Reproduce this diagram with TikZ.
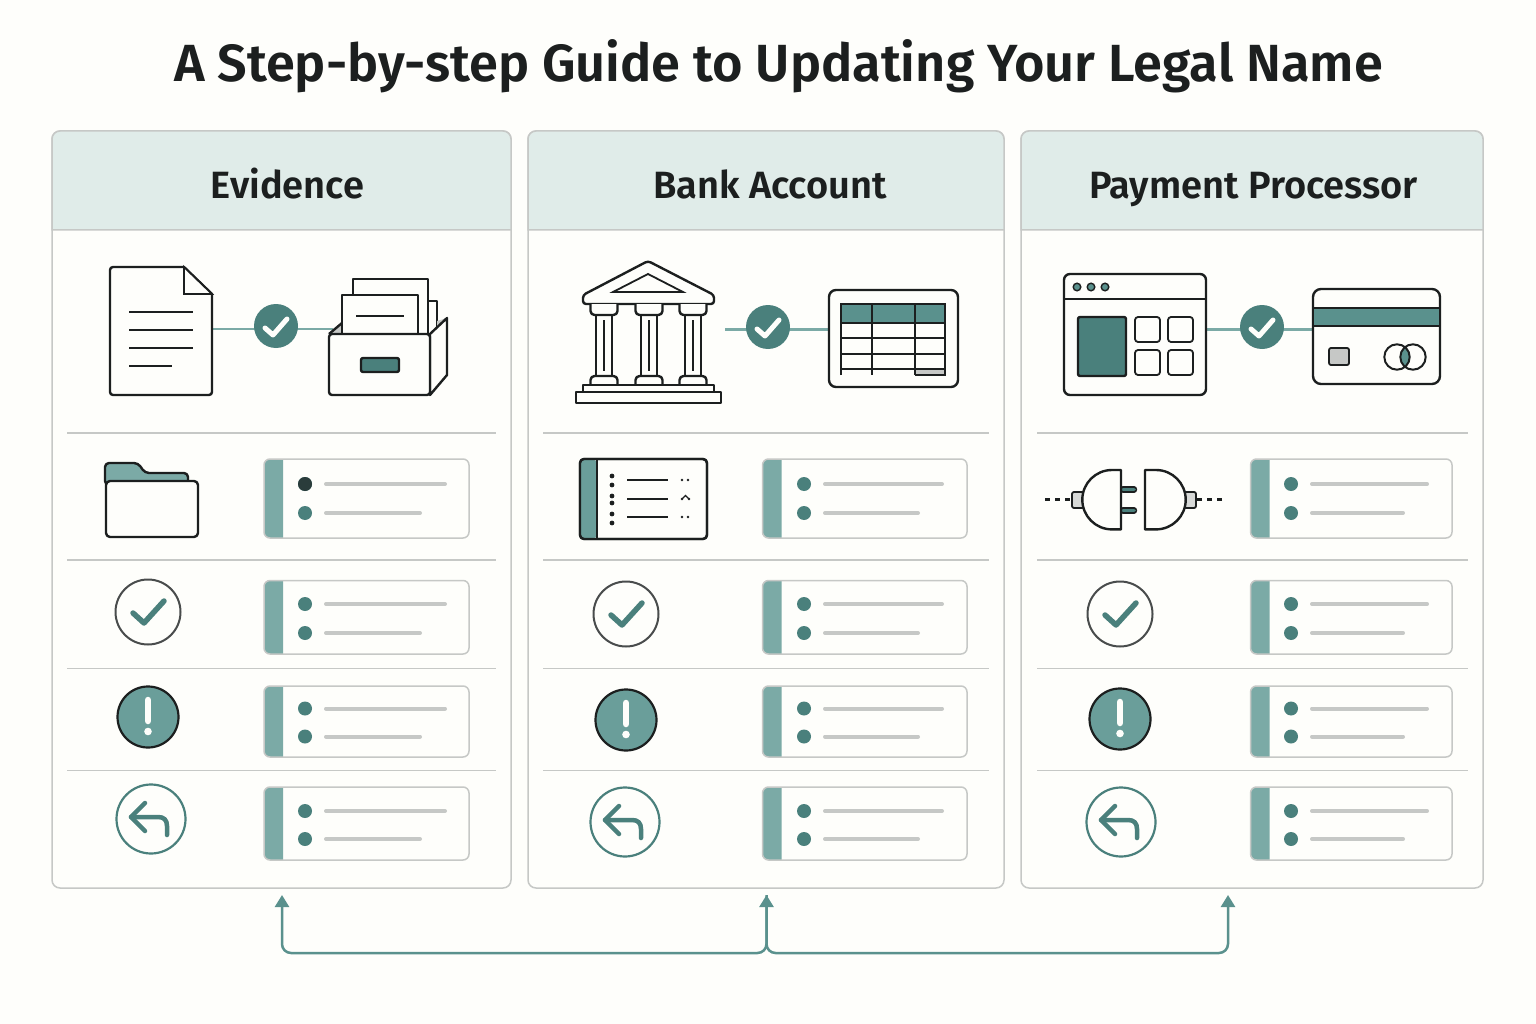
\documentclass[tikz,border=0pt]{standalone}
\usepackage{fontspec}
\setmainfont{Fira Sans}[BoldFont=Fira Sans SemiBold]
\usetikzlibrary{arrows.meta}
\definecolor{paper}{HTML}{FEFEFB}
\definecolor{headfill}{HTML}{E0ECE9}
\definecolor{rimgray}{HTML}{C6C8C6}
\definecolor{ink}{HTML}{1C1F1F}
\definecolor{tealdark}{HTML}{4A807C}
\definecolor{tealmid}{HTML}{5A918D}
\definecolor{tealsoft}{HTML}{6A9E9A}
\definecolor{teallight}{HTML}{7BAAA6}
\tikzset{
  panel/.style={draw=rimgray,fill=paper,line width=1.5pt,rounded corners=8pt,inner sep=0pt},
  headline/.style={text=ink,anchor=base,font=\bfseries\fontsize{52.3}{56}\selectfont},
  paneltitle/.style={text=ink,anchor=base,font=\bfseries\fontsize{38}{42}\selectfont},
  rule/.style={draw=rimgray,line width=1.5pt},
  icon/.style={draw=ink,line width=2.4pt,line join=round,fill=paper},
  thin/.style={draw=ink,line width=1.8pt},
  link/.style={draw=teallight,line width=2.5pt},
  badge/.style={circle,fill=tealdark,minimum size=44pt,inner sep=0pt},
  tick/.style={draw=paper,line width=5pt,line cap=round,line join=round},
  return/.style={draw=tealmid,line width=2.5pt,rounded corners=9pt},
  checkring/.pic={
    \draw [draw=ink!80,line width=2pt,fill=paper] (0,0) circle (32.5);
    \draw [draw=tealdark,line width=5.5pt,line cap=round,line join=round] (-15,1) -- (-4,11) -- (16,-11);
  },
  alertring/.pic={
    \draw [draw=ink,line width=2.2pt,fill=tealsoft] (0,0) circle (30.5);
    \draw [draw=paper,line width=6.5pt,line cap=round] (0,-17) -- (0,4);
    \fill [paper] (0,14.5) circle (3.8);
  },
  backring/.pic={
    \draw [draw=tealdark,line width=2.2pt,fill=paper] (0,0) circle (34.5);
    \draw [draw=tealdark,line width=4.5pt,line cap=round,line join=round] (-6,-16) -- (-20,-2) -- (-6,12);
    \draw [draw=tealdark,line width=4.5pt,line cap=round] (-20,-2) -- (7,-2) .. controls (13,-2) and (16,1) .. (16,7) -- (16,16);
  }
}
\begin{document}
\begin{tikzpicture}[x=1pt,y=-1pt]
\useasboundingbox (0,0) rectangle (1536,1024);
\fill [paper] (0,0) rectangle (1536,1024);
\node [headline] (title) at (778.5,82) {A Step-by-step Guide to Updating Your Legal Name};
% panels
\foreach \pn/\xa/\xb/\tx/\txt in {A/52/511/287.5/Evidence,B/528/1004/770/Bank Account,C/1021/1483/1253.5/Payment Processor} {
  \draw [panel] (\xa,131) rectangle (\xb,888);
  \draw [rule,fill=headfill] (\xa,230) [rounded corners=8pt] -- (\xa,131) -- (\xb,131) [sharp corners] -- (\xb,230) -- cycle;
  \node [paneltitle] (title\pn) at (\tx,198.5) {\txt};
}
\foreach \xa/\xb in {67/496,543/989,1037/1468}
  \foreach \yy in {433,560,668.5,770.5}
    \draw [rule] (\xa,\yy) -- (\xb,\yy);
% row cards
\foreach \xa/\xb/\xd/\la/\lb in {264/469/305/445/420,762.5/967/804/942/918,1250.5/1452/1291/1427/1403}
  \foreach \ya/\yb/\ua/\ub in {459/538/484/513,580.5/654/604/633,686/757/708.5/736.5,787/860/811/839} {
    \fill [teallight] (\xa+19,\ya) [rounded corners=6pt] -- (\xa,\ya) -- (\xa,\yb) [sharp corners] -- (\xa+19,\yb) -- cycle;
    \draw [draw=rimgray,line width=1.5pt,rounded corners=6pt] (\xa,\ya) rectangle (\xb,\yb);
    \fill [tealdark] (\xd,\ua) circle (7);
    \fill [tealdark] (\xd,\ub) circle (7);
    \draw [draw=rimgray,line width=4pt,line cap=round] (\xd+21,\ua) -- (\la,\ua);
    \draw [draw=rimgray,line width=4pt,line cap=round] (\xd+21,\ub) -- (\lb,\ub);
  }
\fill [ink!70!tealdark] (305,484) circle (7);
% row icons
\pic at (148,612) {checkring};
\pic at (626,614) {checkring};
\pic at (1120,614) {checkring};
\pic at (148,717) {alertring};
\pic at (626,720) {alertring};
\pic at (1120,719) {alertring};
\pic at (151,819) {backring};
\pic at (625,822) {backring};
\pic at (1121,822) {backring};
% evidence: page and file box
\coordinate (pageA) at (212,329);
\coordinate (boxA) at (333,329);
\coordinate (bankB) at (725,329.5);
\coordinate (tableB) at (829,329.5);
\coordinate (siteC) at (1206,329.5);
\coordinate (cardC) at (1313,329.5);
\draw [link] (pageA) -- (boxA);
\draw [link] (bankB) -- (tableB);
\draw [link] (siteC) -- (cardC);
\node [badge] (okA) at (276,326) {};
\node [badge] (okB) at (768,327) {};
\node [badge] (okC) at (1262,327) {};
\draw [tick] (265,328) -- (273,335) -- (287,319);
\draw [tick] (757,329) -- (765,336) -- (779,320);
\draw [tick] (1251,329) -- (1259,336) -- (1273,320);
\draw [icon] (184,267) [rounded corners=3pt] -- (110,267) -- (110,395) -- (212,395) [sharp corners] -- (212,294) -- (184,267);
\draw [thin,fill=paper] (184,267) -- (184,294) -- (212,294) -- cycle;
\foreach \yy/\xe in {312/193,330/193,348/193,366/172}
  \draw [thin] (129,\yy) -- (\xe,\yy);
\fill [rimgray] (329,334) -- (343,322) -- (343,334) -- cycle;
\draw [icon] (353,295) -- (353,279) -- (428,279) -- (428,334) -- (353,334) -- cycle;
\draw [icon] (428,301) -- (437,301) -- (437,334) -- (428,334) -- cycle;
\draw [icon] (342,334) -- (342,295) -- (418,295) -- (418,334) -- cycle;
\draw [thin] (356,316) -- (404,316);
\fill [rimgray] (437,321) -- (447,318) -- (437,328) -- cycle;
\draw [icon] (430,334) -- (447,318) -- (447,375) -- (430,395) -- cycle;
\draw [icon] (329,334) -- (342,323);
\draw [icon,rounded corners=3pt] (329,334) rectangle (430,395);
\draw [icon,fill=tealdark,rounded corners=2pt] (361,358) rectangle (399,372);
\draw [icon,fill=teallight,rounded corners=4pt] (105,485) -- (105,463) -- (138,463) -- (145,473) -- (188,473) -- (188,485) -- cycle;
\draw [icon,rounded corners=4pt] (106,481) rectangle (198,537);
% bank: building and table
\draw [icon,rounded corners=3pt] (648,261) -- (583,295) -- (583,304) -- (714,304) -- (714,295) -- cycle;
\draw [thin] (648,274) -- (613,292) -- (683,292) -- cycle;
\foreach \xc in {604,649,693} {
  \draw [icon] (\xc-8,315) rectangle (\xc+8,376);
  \draw [thin] (\xc,320) -- (\xc,371);
  \draw [icon,rounded corners=4pt] (\xc-13.5,304) -- (\xc-13.5,315) -- (\xc+13.5,315) -- (\xc+13.5,304);
  \draw [icon,rounded corners=4pt] (\xc-13.5,385) -- (\xc-13.5,376) -- (\xc+13.5,376) -- (\xc+13.5,385);
}
\draw [icon] (583,385) rectangle (714,392);
\draw [icon] (576,392) rectangle (721,403);
\draw [icon,rounded corners=7pt] (829,290) rectangle (958,387);
\fill [tealmid] (841,304) rectangle (945,323);
\fill [rimgray] (915,369) rectangle (945,375);
\draw [thin] (841,375) -- (841,304) -- (945,304) -- (945,375) -- (915,375);
\foreach \yy in {323,338,354,369}
  \draw [thin] (841,\yy) -- (945,\yy);
\foreach \xc in {872,915}
  \draw [thin] (\xc,304) -- (\xc,375);
\draw [icon,rounded corners=4pt] (580,459) rectangle (707,539);
\fill [tealsoft,rounded corners=3pt] (581,460) rectangle (597,538);
\draw [thin] (597,459) -- (597,539);
\draw [icon,fill=none,rounded corners=4pt] (580,459) rectangle (707,539);
\foreach \yy in {476,485,496,503,514,523}
  \fill [ink] (612,\yy) circle (2.4);
\foreach \yy in {480,499,517}
  \draw [thin] (627,\yy) -- (668,\yy);
\foreach \xc/\yy in {682/480,688/480,682/499,689/499,682/517,688/517}
  \fill [ink] (\xc,\yy) circle (1.4);
\draw [draw=ink,line width=1.2pt] (682,499) -- (685.5,495.5) -- (689,499);
% processor: site, card and plug
\draw [icon,rounded corners=6pt] (1064,274) rectangle (1206,395);
\draw [icon] (1064,299) -- (1206,299);
\foreach \xc in {1077,1091,1105}
  \draw [draw=ink,line width=1.4pt,fill=tealmid] (\xc,287) circle (3.8);
\draw [icon,fill=tealdark,rounded corners=2pt] (1078,317) rectangle (1126,376);
\foreach \xc in {1135,1168}
  \foreach \yy in {317,350}
    \draw [icon,line width=1.8pt,rounded corners=3pt] (\xc,\yy) rectangle (\xc+25,\yy+25);
\draw [icon,rounded corners=8pt] (1313,289) rectangle (1440,384);
\draw [icon,fill=tealmid] (1313,308) rectangle (1440,326);
\draw [icon,line width=1.8pt,fill=rimgray,rounded corners=2pt] (1329,348) rectangle (1349,365);
\begin{scope}
\clip (1397,357) circle (12.7);
\fill [tealmid] (1413,357) circle (12.7);
\end{scope}
\draw [thin,line width=2pt] (1397,357) circle (12.7);
\draw [thin,line width=2pt] (1413,357) circle (12.7);
\draw [draw=ink,line width=2.2pt,dash pattern=on 5pt off 5pt] (1045,499.5) -- (1072,499.5);
\draw [draw=ink,line width=2.2pt,dash pattern=on 5pt off 5pt] (1222,499.5) -- (1196,499.5);
\draw [icon,line width=1.8pt,fill=rimgray!70,rounded corners=2pt] (1072,492) rectangle (1084,508);
\draw [icon,line width=1.8pt,fill=rimgray!70,rounded corners=2pt] (1196,492) rectangle (1184,508);
\foreach \yy in {489.5,510.5} {
  \draw [draw=ink,line width=6.4pt,line cap=round] (1123,\yy) -- (1134,\yy);
  \draw [draw=tealdark,line width=3.8pt,line cap=round] (1123,\yy) -- (1134,\yy);
}
\draw [icon] (1121,470) -- (1112,470) arc (-90:-270:29.7) -- (1121,529.4) -- cycle;
\draw [icon] (1145,470) -- (1156,470) arc (-90:90:29.7) -- (1145,529.4) -- cycle;
% arrows under the panels
\coordinate (hub) at (766.5,953);
\coordinate (tipA) at (282,895);
\coordinate (tipB) at (766.5,895);
\coordinate (tipC) at (1228,895);
\draw [return,{Triangle[length=12pt,width=14pt]}-{Triangle[length=12pt,width=14pt]}] (tipB) -- (hub) -- (tipA |- hub) -- (tipA);
\draw [return,-{Triangle[length=12pt,width=14pt]}] (tipB) -- (hub) -- (tipC |- hub) -- (tipC);
\end{tikzpicture}
\end{document}
